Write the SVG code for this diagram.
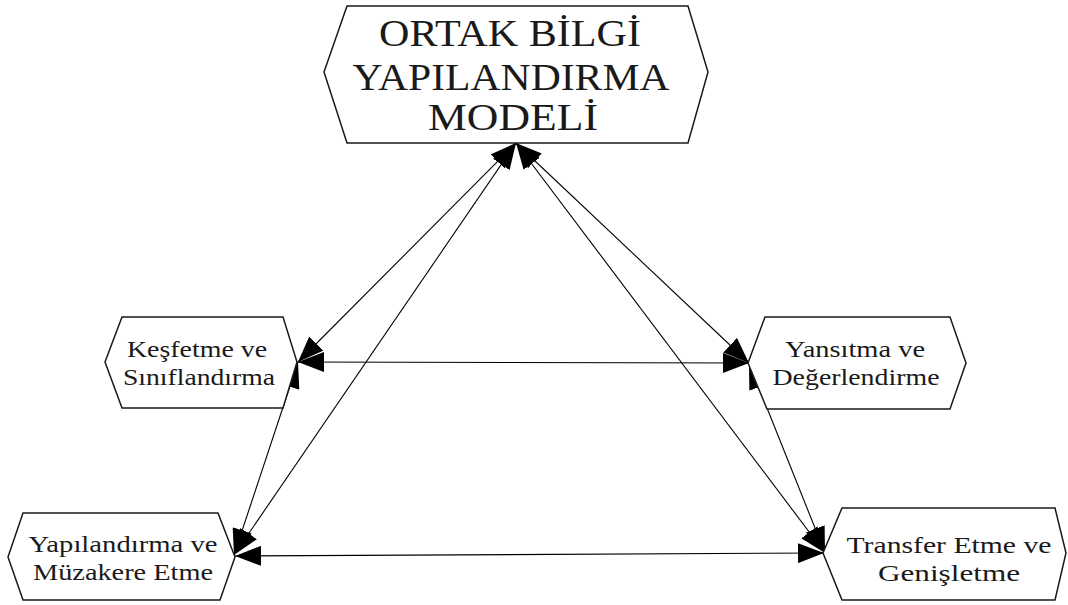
<svg xmlns="http://www.w3.org/2000/svg" width="1068" height="605" viewBox="0 0 1068 605">
<defs>
<style>
.hex{fill:#fff;stroke:#1a1a1a;stroke-width:1.5}
.t{font-family:"Liberation Serif","Times New Roman",serif;fill:#1a1a1a;text-anchor:middle}
.big{font-size:38px}
.sm{font-size:24px}
.c{stroke:#000;stroke-width:1.1;fill:none;marker-start:url(#ah);marker-end:url(#ah)}
</style>
<marker id="ah" markerUnits="userSpaceOnUse" viewBox="0 0 26 20" markerWidth="26" markerHeight="20" refX="26" refY="10" orient="auto-start-reverse">
<path d="M0,0 L26,10 L0,20 z" fill="#000"/>
</marker>
</defs>
<rect width="1068" height="605" fill="#fff"/>
<g id="connectors">
<line class="c" x1="516" y1="143" x2="298" y2="362"/>
<line class="c" x1="516" y1="143" x2="234" y2="555"/>
<line class="c" x1="516" y1="143" x2="749" y2="363"/>
<line class="c" x1="516" y1="143" x2="825" y2="553"/>
<line class="c" x1="298" y1="362" x2="749" y2="363"/>
<line class="c" x1="235" y1="556" x2="824" y2="553"/>
<line class="c" x1="298" y1="362" x2="234" y2="555"/>
<line class="c" x1="749" y1="363" x2="825" y2="553"/>
</g>
<g id="node-top">
<polygon class="hex" points="347,6 688,6 708,72 688,143 347,143 324,72"/>
<text class="t big" x="510" y="46" textLength="262" lengthAdjust="spacingAndGlyphs">ORTAK BİLGİ</text>
<text class="t big" x="511" y="90" textLength="317" lengthAdjust="spacingAndGlyphs">YAPILANDIRMA</text>
<text class="t big" x="513" y="130" textLength="170" lengthAdjust="spacingAndGlyphs">MODELİ</text>
</g>
<g id="node-kesfetme">
<polygon class="hex" points="122,317 283,317 297,362 283,408 122,408 105,362"/>
<text class="t sm" x="197" y="357" textLength="140" lengthAdjust="spacingAndGlyphs">Keşfetme ve</text>
<text class="t sm" x="199" y="385" textLength="152" lengthAdjust="spacingAndGlyphs">Sınıflandırma</text>
</g>
<g id="node-yansitma">
<polygon class="hex" points="765,317 950,317 966,363 950,409 767,409 748,363"/>
<text class="t sm" x="855" y="357" textLength="140" lengthAdjust="spacingAndGlyphs">Yansıtma ve</text>
<text class="t sm" x="856" y="385" textLength="167" lengthAdjust="spacingAndGlyphs">Değerlendirme</text>
</g>
<g id="node-yapilandirma">
<polygon class="hex" points="23,513 218,513 235,557 220,600 23,600 8,557"/>
<text class="t sm" x="123" y="552" textLength="189" lengthAdjust="spacingAndGlyphs">Yapılandırma ve</text>
<text class="t sm" x="123" y="580" textLength="180" lengthAdjust="spacingAndGlyphs">Müzakere Etme</text>
</g>
<g id="node-transfer">
<polygon class="hex" points="842,508 1055,508 1066,553 1055,600 842,600 823,553"/>
<text class="t sm" x="949" y="553" textLength="205" lengthAdjust="spacingAndGlyphs">Transfer Etme ve</text>
<text class="t sm" x="949" y="581" textLength="142" lengthAdjust="spacingAndGlyphs">Genişletme</text>
</g>
</svg>
